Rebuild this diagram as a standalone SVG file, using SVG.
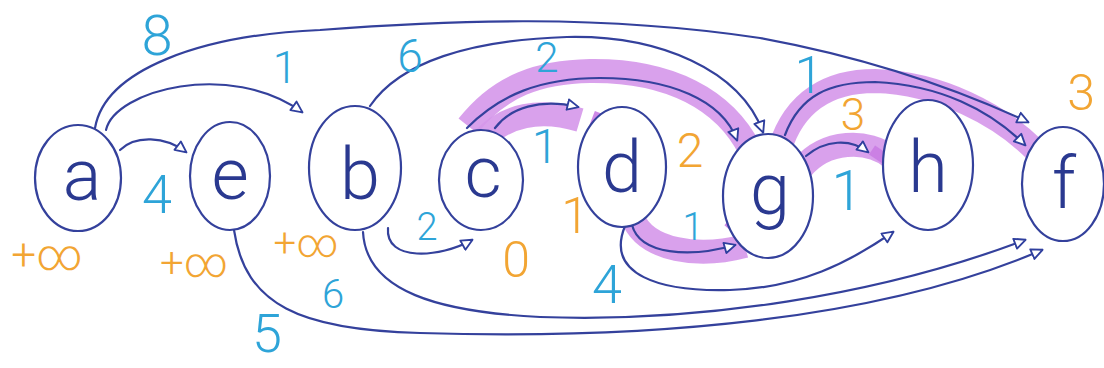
<svg xmlns="http://www.w3.org/2000/svg" width="1104" height="368" viewBox="0 0 1104 368">
<defs>
<marker id="arr" viewBox="0 0 12 12" refX="10" refY="6" markerWidth="14" markerHeight="14" markerUnits="userSpaceOnUse" orient="auto">
<path d="M1,1.5 L10.5,6 L1,10.5 Z" fill="#ffffff" stroke="#2f3f9e" stroke-width="1.6" stroke-linejoin="round"/>
</marker>
</defs>
<style>
.node ellipse{fill:#ffffff;stroke:#34419c;stroke-width:2.2}
.node text{font-family:Roboto,"Open Sans","Liberation Sans",sans-serif;font-weight:300;fill:#2a3990;text-anchor:middle;font-size:72px}
.edge{fill:none;stroke:#34419c;stroke-width:2.2;stroke-linecap:round;marker-end:url(#arr)}
.hl{fill:none;stroke:#d597ea;stroke-opacity:0.9;stroke-width:24}
.tick{fill:none;stroke:#c97ce3;stroke-opacity:0.9;stroke-width:11}
.w{font-family:Roboto,"Open Sans","Liberation Sans",sans-serif;font-weight:300;fill:#2ea4d8;text-anchor:middle}
.o{font-family:Roboto,"Open Sans","Liberation Sans",sans-serif;font-weight:300;fill:#f2a533;text-anchor:middle}
</style>
<rect width="1104" height="368" fill="#ffffff"/>

<g id="highlights">
<path class="hl" d="M 468 126 C 500 85 540 72 590 71 C 670 70 725 100 750 150"/>
<path class="hl" d="M 483 140 C 505 115 540 108 580 120"/>
<path class="tick" d="M 600 113 L 590 139"/>
<path class="hl" d="M 632 216 C 645 252 700 258 745 246"/>
<path class="tick" d="M 728 221 L 756 245"/>
<path class="hl" d="M 802 168 C 825 140 868 138 892 158"/>
<path class="tick" d="M 872 150 L 896 166"/>
<path class="hl" d="M 780 148 C 795 100 830 81 875 81 C 940 83 1000 115 1035 150"/>
</g>

<g id="connectors">
<path class="edge" d="M 120 150 C 135 135 165 136 186 152"/>
<path class="edge" d="M 106 130 C 115 90 230 60 302 112"/>
<path class="edge" d="M 95 128 C 105 70 200 35 320 30 C 450 20 600 14 760 38 C 880 60 970 95 1028 122"/>
<path class="edge" d="M 370 106 C 400 62 470 40 567 37 C 660 35 740 70 763 132"/>
<path class="edge" d="M 467 128 C 500 95 540 78 600 78 C 670 78 722 100 737 140"/>
<path class="edge" d="M 495 128 C 510 108 540 98 578 107"/>
<path class="edge" d="M 388 228 C 385 262 440 258 472 240"/>
<path class="edge" d="M 632 225 C 640 255 690 258 735 245"/>
<path class="edge" d="M 625 226 C 605 275 660 292 730 290 C 800 288 850 262 893 232"/>
<path class="edge" d="M 806 156 C 825 140 850 138 868 152"/>
<path class="edge" d="M 785 135 C 800 95 830 82 875 82 C 940 85 990 110 1025 145"/>
<path class="edge" d="M 234 230 C 245 305 300 330 420 333 C 650 340 880 320 1042 250"/>
<path class="edge" d="M 363 232 C 366 292 440 312 540 317 C 700 323 880 295 1025 240"/>
</g>

<g id="node-a" class="node"><ellipse cx="78" cy="178" rx="43" ry="53"/><text x="82" y="200">a</text></g>
<g id="node-e" class="node"><ellipse cx="230" cy="176" rx="40" ry="54"/><text x="230" y="199">e</text></g>
<g id="node-b" class="node"><ellipse cx="355" cy="168" rx="46" ry="62"/><text x="360" y="199">b</text></g>
<g id="node-c" class="node"><ellipse cx="481" cy="180" rx="42" ry="50"/><text x="483" y="197">c</text></g>
<g id="node-d" class="node"><ellipse cx="622" cy="167" rx="44" ry="60"/><text x="622" y="192">d</text></g>
<g id="node-g" class="node"><ellipse cx="768" cy="196" rx="45" ry="62"/><text x="770" y="214">g</text></g>
<g id="node-h" class="node"><ellipse cx="928" cy="165" rx="45" ry="65"/><text x="928" y="192">h</text></g>
<g id="node-f" class="node"><ellipse cx="1063" cy="184" rx="41" ry="57"/><text x="1064" y="208">f</text></g>

<g id="weights">
<text class="w" x="157" y="55" font-size="56">8</text>
<text class="w" x="157" y="213" font-size="54">4</text>
<text class="w" x="285" y="83" font-size="44">1</text>
<text class="w" x="410" y="72" font-size="46">6</text>
<text class="w" x="547" y="72" font-size="42">2</text>
<text class="w" x="545" y="163" font-size="48">1</text>
<text class="w" x="427" y="240" font-size="38">2</text>
<text class="w" x="693" y="240" font-size="38">1</text>
<text class="w" x="607" y="303" font-size="54">4</text>
<text class="w" x="333" y="308" font-size="40">6</text>
<text class="w" x="267" y="352" font-size="54">5</text>
<text class="w" x="847" y="210" font-size="56">1</text>
<text class="w" x="809" y="93" font-size="52">1</text>
</g>

<g id="distances">
<text class="o" x="47" y="270" font-size="44">+∞</text>
<text class="o" x="194" y="277" font-size="42">+∞</text>
<text class="o" x="306" y="257" font-size="40">+∞</text>
<text class="o" x="516" y="277" font-size="50">0</text>
<text class="o" x="575" y="233" font-size="50">1</text>
<text class="o" x="690" y="167" font-size="48">2</text>
<text class="o" x="853" y="130" font-size="44">3</text>
<text class="o" x="1081" y="110" font-size="50">3</text>
</g>
</svg>
